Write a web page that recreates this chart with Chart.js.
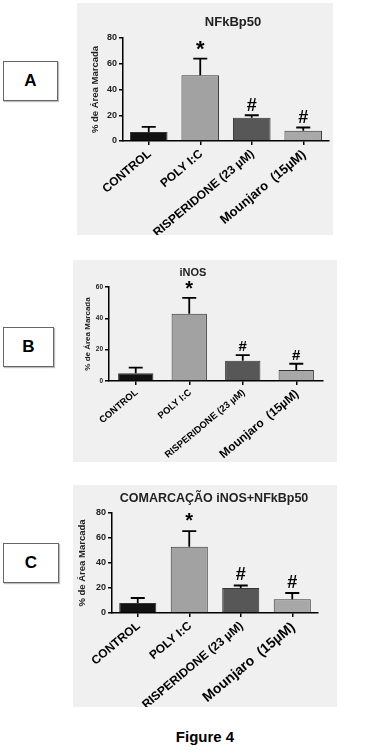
<!DOCTYPE html>
<html>
<head>
<meta charset="utf-8">
<script src="https://cdn.jsdelivr.net/npm/chart.js@4"></script>
<style>
  body { margin: 0; background: #fff; width: 373px; height: 755px; position: relative; overflow: hidden;
         font-family: "Liberation Sans", Arial, sans-serif; }
  .panel { position: absolute; background: #f0f0f0; }
  .tag { position: absolute; border: 1px solid #666; background: #fff; font-weight: bold; font-size: 17px;
         display: flex; align-items: center; justify-content: center; box-sizing: border-box;
         box-shadow: 1px 1px 1px rgba(0,0,0,0.25); }
  #fig { position: absolute; left: 0; width: 410px; top: 728px; text-align: center; font-weight: bold; font-size: 15px; }
</style>
</head>
<body>
<div class="tag" style="left:3px;top:61px;width:55px;height:40px">A</div>
<div class="tag" style="left:3px;top:327px;width:51px;height:40px">B</div>
<div class="tag" style="left:3px;top:543px;width:56px;height:40px">C</div>

<div class="panel" style="left:77px;top:3px"><canvas id="chartA" width="256" height="232"></canvas></div>
<div class="panel" style="left:73px;top:260px"><canvas id="chartB" width="264" height="202"></canvas></div>
<div class="panel" style="left:73px;top:485px"><canvas id="chartC" width="264" height="222"></canvas></div>

<div id="fig">Figure 4</div>

<script>
const categories = ['CONTROL', 'POLY I:C', 'RISPERIDONE (23 µM)', 'Mounjaro  (15µM)'];
const barColors = ['#111111', '#a2a2a2', '#575757', '#a8a8a8'];
const marks = ['', '*', '#', '#'];

// NFkBp50
const nfkbMeans = [7, 51, 18, 8];
const nfkbErrors = [4, 13, 2, 2.5];
// iNOS
const inosMeans = [5, 43, 13, 7];
const inosErrors = [3.5, 10, 3.5, 4];
// iNOS + NFkBp50
const comarcMeans = [8, 53, 20, 11];
const comarcErrors = [4, 12.5, 2, 5];

const FONT = '"Liberation Sans", Arial, sans-serif';

// error bars, significance marks and panel title
const errorBars = {
    id: 'errorBars',
    afterDatasetsDraw(chart, args, opts) {
        const ctx = chart.ctx
        const y = chart.scales.y
        const meta = chart.getDatasetMeta(0)
        const values = chart.data.datasets[0].data
        ctx.save()
        ctx.strokeStyle = '#000'
        ctx.fillStyle = '#000'
        ctx.lineWidth = opts.lineWidth
        ctx.textAlign = 'center'
        ctx.textBaseline = 'middle'
        opts.errors.forEach((e, i) => {
            const bx = meta.data[i].x
            const top = y.getPixelForValue(values[i] + e)
            ctx.beginPath()
            ctx.moveTo(bx, y.getPixelForValue(values[i]))
            ctx.lineTo(bx, top)
            ctx.moveTo(bx - opts.cap, top)
            ctx.lineTo(bx + opts.cap, top)
            ctx.stroke()
            const m = opts.marks[i]
            if (m) {
                ctx.font = 'bold ' + (m === '*' ? opts.starSize : opts.hashSize) + 'px ' + FONT
                ctx.fillText(m, bx, top - opts.markGap)
            }
        })
        ctx.font = 'bold ' + opts.titleSize + 'px ' + FONT
        ctx.fillStyle = '#222'
        ctx.fillText(opts.title, opts.titleX, opts.titleY)
        ctx.restore()
    }
}

function makePanel(id, p) {
    return new Chart(document.getElementById(id), {
        type: 'bar',
        data: {
            labels: categories,
            datasets: [{
                data: p.means,
                backgroundColor: barColors,
                borderColor: '#333',
                borderWidth: 1,
                barPercentage: p.barPct,
                categoryPercentage: 1
            }]
        },
        options: {
            responsive: false,
            animation: false,
            layout: {padding: {left: 0, right: p.padRight, top: p.padTop, bottom: 0}},
            plugins: {
                legend: {display: false},
                tooltip: {enabled: false},
                errorBars: {
                    errors: p.errors, marks: marks, cap: p.cap, lineWidth: 1.8,
                    starSize: p.starSize, hashSize: p.hashSize, markGap: p.markGap,
                    title: p.title, titleX: p.titleX, titleY: p.titleY, titleSize: p.titleSize
                }
            },
            scales: {
                x: {
                    grid: {drawOnChartArea: false, tickLength: 4, color: '#000', offset: false, lineWidth: 1.5},
                    border: {color: '#000', width: 1.5},
                    ticks: {
                        minRotation: 40, maxRotation: 40, autoSkip: false, padding: 2, labelOffset: 1, color: '#000',
                        font: c => ({family: FONT, weight: 'bold', size: c.index === 3 ? p.bigLabel : p.label})
                    },
                    afterFit: s => { s.height = p.xHeight; s.paddingLeft = 0; s.paddingRight = 0 }
                },
                y: {
                    min: 0, max: p.yMax,
                    ticks: {stepSize: 20, padding: 2, color: '#222', font: {family: FONT, weight: 'bold', size: p.tickSize}},
                    grid: {drawOnChartArea: false, tickLength: 4, color: '#000', lineWidth: 1.5},
                    border: {color: '#000', width: 1.5},
                    title: {
                        display: true, text: '% de Área Marcada', color: '#222',
                        font: {family: FONT, weight: 'bold', size: p.yTitleSize},
                        padding: {top: p.yTitlePad, bottom: 0}
                    },
                    afterFit: s => { s.width = p.yWidth }
                }
            }
        },
        plugins: [errorBars]
    })
}

makePanel('chartA', {
    means: nfkbMeans, errors: nfkbErrors, yMax: 80, barPct: 0.73,
    yWidth: 46, padRight: 4, padTop: 35, xHeight: 94,
    label: 12, bigLabel: 13, tickSize: 9, yTitleSize: 9.5, yTitlePad: 12.3,
    cap: 7, starSize: 22, hashSize: 18, markGap: 9,
    title: 'NFkBp50', titleX: 156, titleY: 19, titleSize: 13
})

makePanel('chartB', {
    means: inosMeans, errors: inosErrors, yMax: 60, barPct: 0.66,
    yWidth: 36, padRight: 14, padTop: 27, xHeight: 81,
    label: 9.5, bigLabel: 12, tickSize: 6.5, yTitleSize: 8, yTitlePad: 10.2,
    cap: 7, starSize: 20, hashSize: 15, markGap: 8,
    title: 'iNOS', titleX: 120, titleY: 13, titleSize: 11
})

makePanel('chartC', {
    means: comarcMeans, errors: comarcErrors, yMax: 80, barPct: 0.72,
    yWidth: 39, padRight: 19, padTop: 28, xHeight: 94,
    label: 12, bigLabel: 14, tickSize: 9, yTitleSize: 9.5, yTitlePad: 3.3,
    cap: 7, starSize: 20, hashSize: 18, markGap: 10,
    title: 'COMARCAÇÃO iNOS+NFkBp50', titleX: 141, titleY: 14, titleSize: 12.5
})
</script>
</body>
</html>
